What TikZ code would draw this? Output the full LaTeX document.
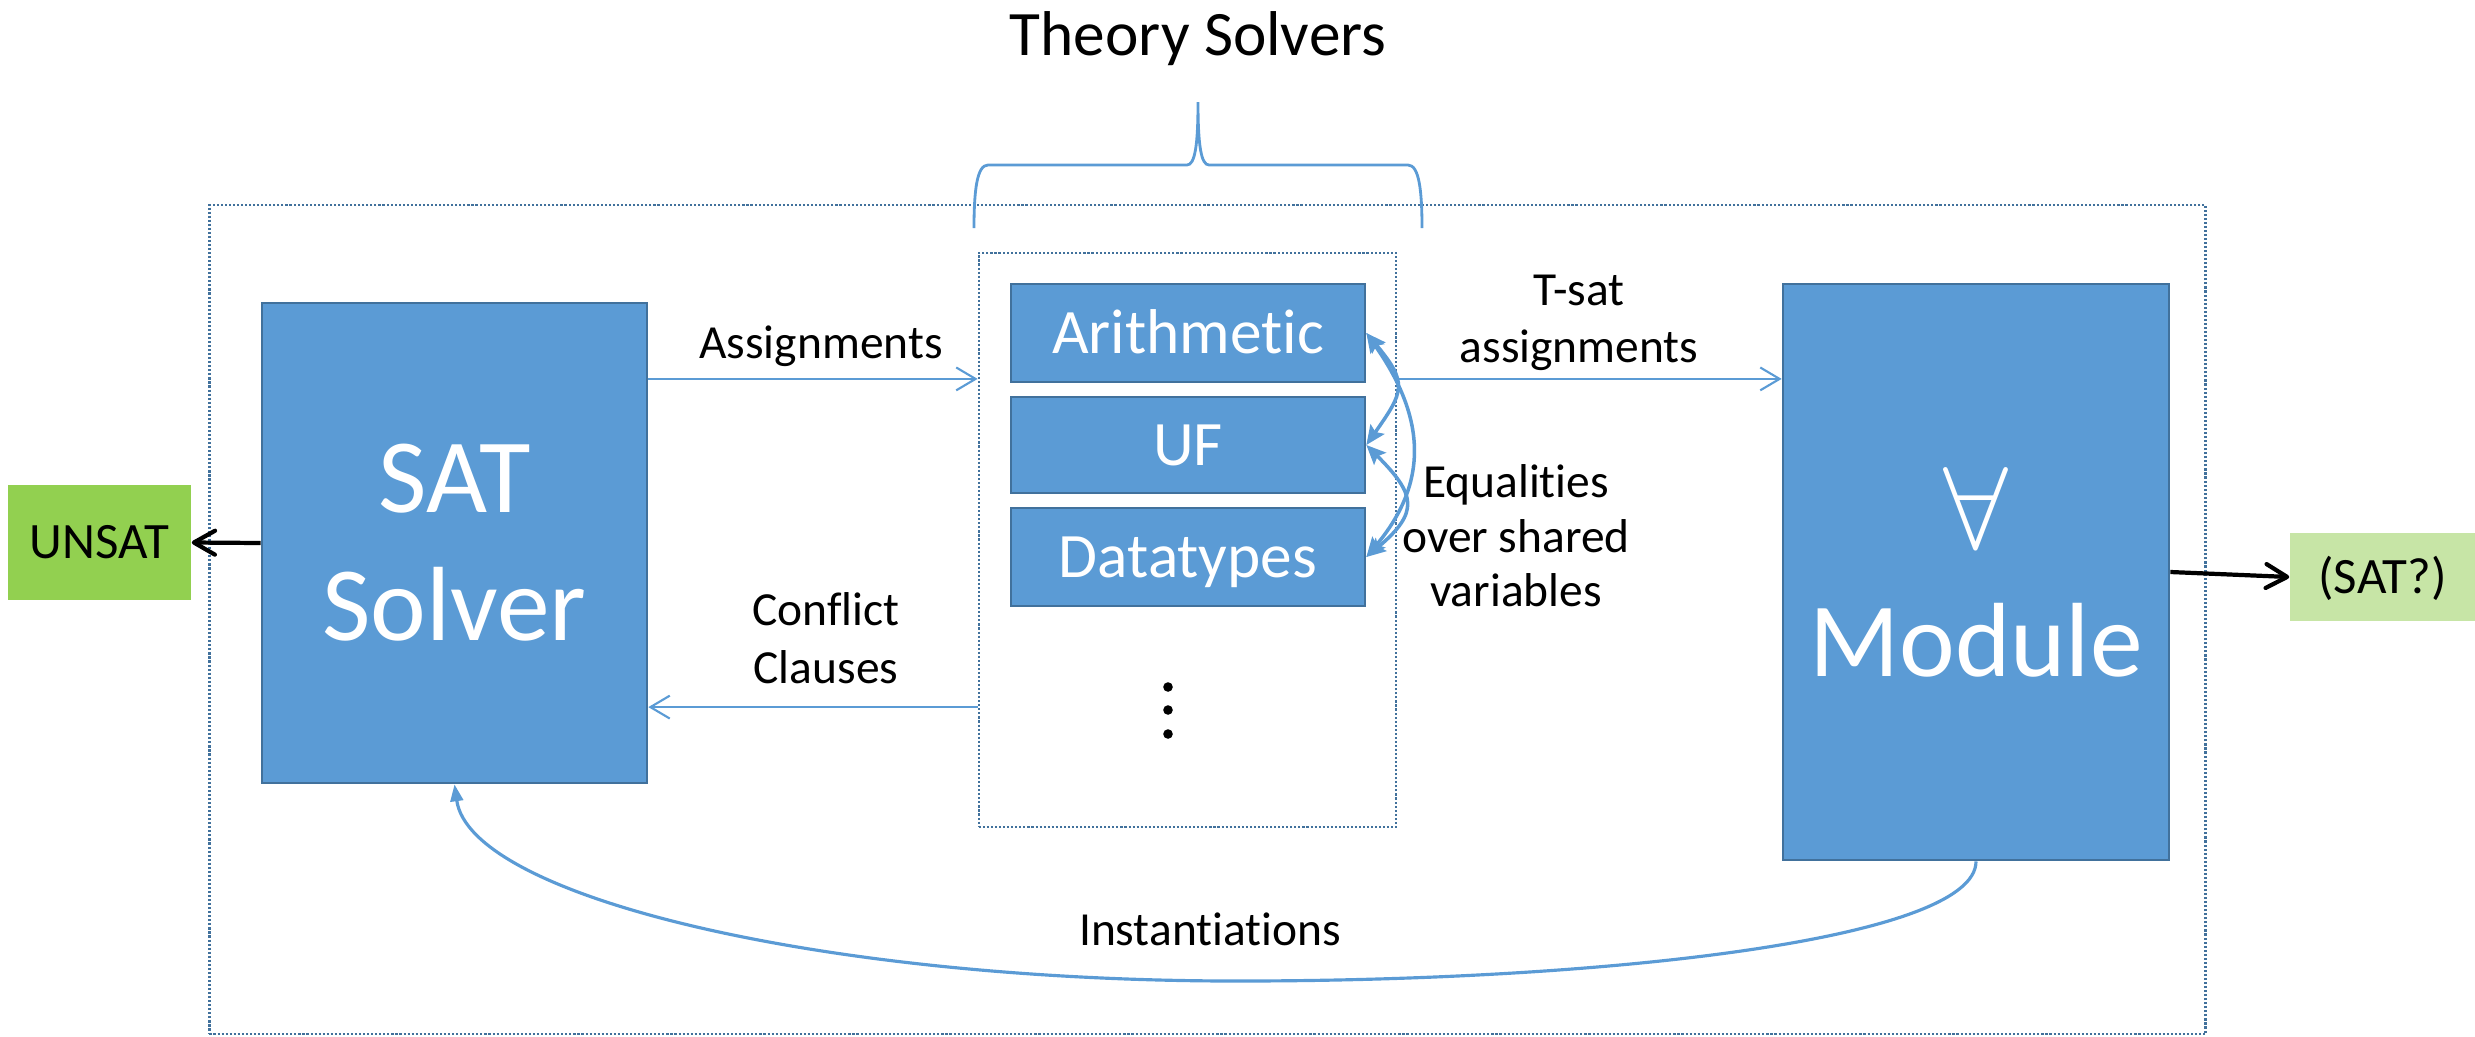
\documentclass[tikz,border=0pt]{standalone}
\usepackage{fontspec}
\setmainfont{Carlito}[Ligatures=NoCommon]
\usetikzlibrary{arrows.meta}

\definecolor{boxfill}{HTML}{5B9BD5}
\definecolor{boxedge}{HTML}{41719C}
\definecolor{flowblue}{HTML}{5B9BD5}
\definecolor{unsatgreen}{HTML}{92D050}
\definecolor{satgreen}{HTML}{C7E5A6}

\tikzset{
  solver/.style={draw=boxedge, fill=boxfill, line width=0.7pt, text=white,
    inner sep=0pt, align=center},
  bigfont/.style={font=\fontsize{30}{36.4}\selectfont},
  midfont/.style={font=\fontsize{18}{21.6}\selectfont},
  lbl/.style={font=\fontsize{13.5}{16.4}\selectfont, align=center, inner sep=0pt},
  result/.style={inner sep=0pt, font=\fontsize{14.5}{17}\selectfont,
    text height=9.3pt, text depth=0pt},
  frame/.style={draw=boxedge, line width=0.7pt, dash pattern=on 0.6pt off 0.55pt,
    inner sep=0pt},
  flow/.style={draw=flowblue, line width=0.6pt,
    -{Straight Barb[length=5.5pt,width=6.5pt]}},
  outflow/.style={draw=black, line width=1.2pt,
    -{Straight Barb[round,length=6pt,width=6.8pt]}},
  share/.style={draw=flowblue, line width=1pt,
    {Stealth[length=5.5pt,width=4.8pt,inset=1pt]}-{Stealth[length=5.5pt,width=4.8pt,inset=1pt]}},
  inst/.style={draw=flowblue, line width=0.9pt,
    -{Triangle[length=4.8pt,width=3.6pt]}},
}

\begin{document}
\begin{tikzpicture}[x=0.01cm, y=-0.01cm]
\useasboundingbox (0,0) rectangle (2475,1036);

% outer frame and the theory-solver group
\node[frame, minimum width=19.95cm, minimum height=8.29cm] (outer) at (1207.5,619.5) {};
\node[frame, minimum width=4.17cm, minimum height=5.74cm] (theory) at (1187.5,540) {};

% brace and heading over the theory solvers
\node[anchor=base, inner sep=0pt, midfont] (title) at (1198,55) {Theory Solvers};
\draw[flowblue, line width=0.8pt]
  (974,228) .. controls (974,190) and (977,165) .. (988,165) -- (1187,165)
  .. controls (1195,165) and (1198,145) .. (1198,102)
  .. controls (1198,145) and (1201,165) .. (1209,165) -- (1408,165)
  .. controls (1419,165) and (1422,190) .. (1422,228);

% main blocks
\node[solver, bigfont, minimum width=3.85cm, minimum height=4.8cm] (sat) at (454.5,543) {SAT\\Solver};
\node[solver, bigfont, minimum width=3.86cm, minimum height=5.76cm] (module) at (1976,572)
  {{\fontsize{20.74}{24}\selectfont\scalebox{1.6}{$\forall$}}\\Module};

% theory solvers
\node[solver, midfont, minimum width=3.54cm, minimum height=0.98cm,
  text height=11.6pt, text depth=0pt] (arith) at (1188,333) {Arithmetic};
\node[solver, midfont, minimum width=3.54cm, minimum height=0.96cm,
  text height=11.6pt, text depth=0pt] (uf) at (1188,445) {UF};
\node[solver, midfont, minimum width=3.54cm, minimum height=0.98cm,
  text height=11.6pt, text depth=0pt] (dt) at (1188,557) {Datatypes};
\foreach \yy in {687,710,734} \fill (1168,\yy) circle (4.8);

% results
\node[result, fill=unsatgreen, minimum width=1.83cm, minimum height=1.15cm] (unsat) at (99.5,542.5) {UNSAT};
\node[result, fill=satgreen, minimum width=1.85cm, minimum height=0.88cm] (satq) at (2382.5,577) {(SAT?)};

% connectors between the solvers
\coordinate (up) at ([yshift=1.64cm]sat.east);
\coordinate (down) at ([yshift=-1.64cm]sat.east);
\draw[flow] (up) -- (up -| theory.west);
\draw[flow] (down -| theory.west) -- (down);
\draw[flow] (up -| theory.east) -- (up -| module.west);

\draw[share] (arith.east) to[out=-50, in=55, looseness=1.5] (uf.east);
\draw[share] (uf.east) to[out=-45, in=40, looseness=1.6] (dt.east);
\draw[share] (arith.east) to[out=-55, in=50, looseness=1.15] (dt.east);

\coordinate (low) at (1224,981);
\draw[inst] (module.south) .. controls (1976,940) and (1600,982) .. (low)
  .. controls (810,979) and (470,895) .. (sat.south);

\draw[outflow] (sat.west) -- (unsat.east);
\draw[outflow] (module.east) -- (satq.west);

% connector labels
\node[lbl, anchor=base] (lassign) at (821,358) {Assignments};
\node[lbl] (lconflict) at (826,638) {Conflict\\Clauses};
\node[lbl] (ltsat) at (1579,323) {T-sat\\assignments};
\node[lbl, font=\fontsize{13.5}{15.5}\selectfont] (lequal) at (1516,536) {Equalities\\over shared\\variables};
\node[lbl, anchor=base] (linst) at (1210,945) {Instantiations};
\end{tikzpicture}
\end{document}
